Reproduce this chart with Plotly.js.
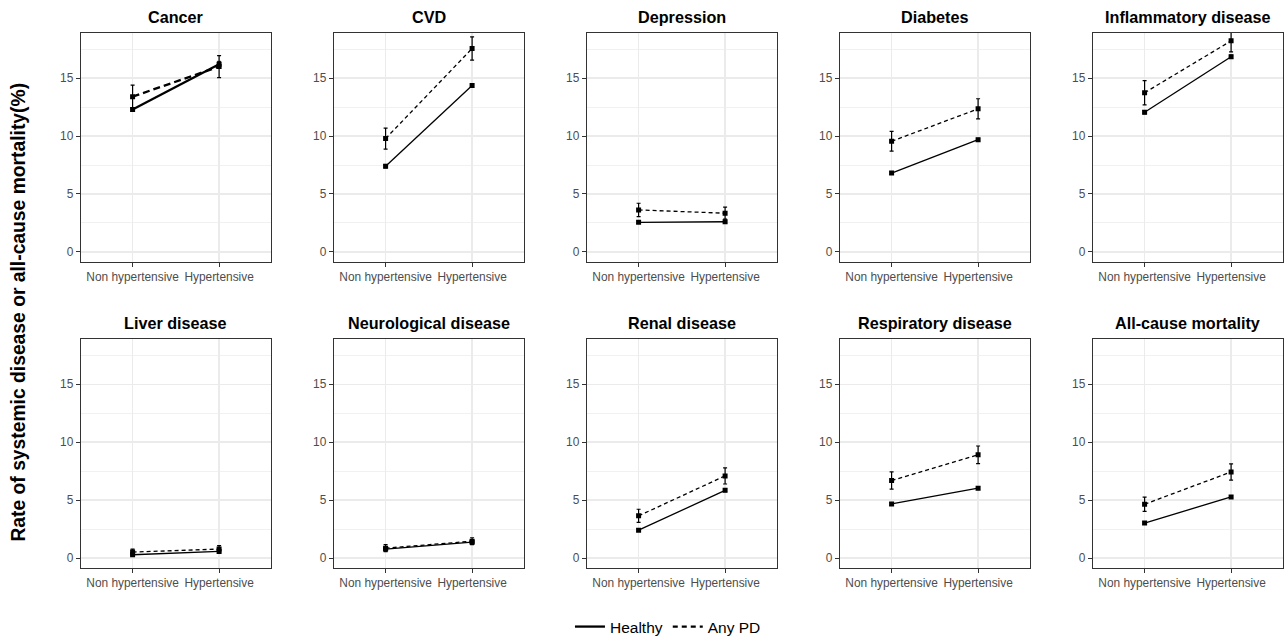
<!DOCTYPE html>
<html>
<head>
<meta charset="utf-8">
<script src="https://cdn.plot.ly/plotly-3.0.1.min.js"></script>
<style>html,body{margin:0;padding:0;background:#fff;}#chart{width:1288px;height:644px;}</style>
</head>
<body>
<div id="chart"></div>
<script>
const categories = ['Non hypertensive', 'Hypertensive'];
const panelTitles = ['Cancer', 'CVD', 'Depression', 'Diabetes', 'Inflammatory disease',
  'Liver disease', 'Neurological disease', 'Renal disease', 'Respiratory disease', 'All-cause mortality'];
const seriesNames = ['Healthy', 'Any PD'];
const healthyNonHyp = [12.3, 7.4, 2.55, 6.8, 12.06, 0.28, 0.77, 2.4, 4.67, 3.02];
const healthyHyp    = [16.2, 14.37, 2.6, 9.69, 16.85, 0.57, 1.37, 5.84, 6.03, 5.27];
const healthyErrNonHyp = [0.15, 0.15, 0.1, 0.12, 0.15, 0.05, 0.08, 0.1, 0.12, 0.1];
const healthyErrHyp    = [0.25, 0.15, 0.1, 0.12, 0.15, 0.07, 0.1, 0.12, 0.12, 0.1];
const pdNonHyp = [13.4, 9.78, 3.62, 9.55, 13.74, 0.51, 0.85, 3.64, 6.69, 4.64];
const pdHyp    = [16.0, 17.56, 3.34, 12.35, 18.22, 0.77, 1.45, 7.09, 8.91, 7.43];
const pdErrNonHyp = [1.0, 0.9, 0.58, 0.85, 1.04, 0.25, 0.3, 0.57, 0.74, 0.62];
const pdErrHyp    = [0.95, 1.0, 0.52, 0.87, 0.95, 0.3, 0.3, 0.7, 0.76, 0.7];
const yTickVals = [0, 5, 10, 15];

const W = 1288, H = 644;
const panelLeft0 = 80.7, panelStep = 253.0, panelWidth = 190.3;
const rowTop = [33.3, 342.3], rowBottom = [264.3, 573.3];

const data = [];
const layout = {
  width: W, height: H,
  margin: {l: 0, r: 0, t: 0, b: 0},
  paper_bgcolor: '#fff', plot_bgcolor: '#fff',
  font: {family: 'Liberation Sans, Arial, sans-serif', color: '#000'},
  showlegend: true,
  legend: {orientation: 'h', x: 0.5186, xanchor: 'center', y: 1 - 633 / H, yanchor: 'middle',
    font: {size: 15.5, color: '#000'}, bgcolor: 'rgba(0,0,0,0)', itemwidth: 30, tracegroupgap: 0},
  annotations: [],
};

for (let i = 0; i < 10; i++) {
  const row = Math.floor(i / 5), col = i % 5;
  const ax = i === 0 ? '' : String(i + 1);
  const left = panelLeft0 + col * panelStep, right = left + panelWidth;
  const isCancer = i === 0;
  const lw = isCancer ? 2.3 : 1.3;
  const pdDash = isCancer ? '7px,4px' : '4px,3px';
  layout['xaxis' + ax] = {
    domain: [left / W, right / W], anchor: 'y' + ax,
    type: 'category', categoryorder: 'array', categoryarray: categories,
    range: [-0.6, 1.6],
    showgrid: true, gridcolor: '#EBEBEB', gridwidth: 1.4,
    showline: true, mirror: true, linecolor: '#333333', linewidth: 1,
    ticks: 'outside', ticklen: 4, tickcolor: '#333333', tickwidth: 1,
    tickfont: {size: 11.9, color: '#4D4D4D'}, zeroline: false, fixedrange: true,
  };
  layout['yaxis' + ax] = {
    domain: [1 - rowBottom[row] / H, 1 - rowTop[row] / H], anchor: 'x' + ax,
    range: [-0.86, 18.9], tickmode: 'array', tickvals: yTickVals,
    showgrid: true, gridcolor: '#EBEBEB', gridwidth: 1.4,
    minor: {tickmode: 'linear', tick0: 0, dtick: 2.5, showgrid: true, gridcolor: '#EEEEEE', gridwidth: 0.8, ticks: ''},
    showline: true, mirror: true, linecolor: '#333333', linewidth: 1,
    ticks: 'outside', ticklen: 4, tickcolor: '#333333', tickwidth: 1,
    tickfont: {size: 11.9, color: '#4D4D4D'}, zeroline: false, fixedrange: true,
  };
  layout.annotations.push({
    text: '<b>' + panelTitles[i] + '</b>', xref: 'paper', yref: 'paper',
    x: (left + right) / 2 / W, y: 1 - (rowTop[row] - 16.5) / H,
    xanchor: 'center', yanchor: 'middle', showarrow: false,
    font: {size: 16.2, color: '#000'},
  });
  data.push({
    type: 'scatter', mode: 'lines+markers', name: seriesNames[0], legendgroup: 'h',
    showlegend: false, xaxis: 'x' + ax, yaxis: 'y' + ax,
    x: categories, y: [healthyNonHyp[i], healthyHyp[i]],
    error_y: {type: 'data', array: [healthyErrNonHyp[i], healthyErrHyp[i]], color: '#000', thickness: 1, width: 2},
    line: {color: '#000', width: lw, dash: 'solid'},
    marker: {symbol: 'square', size: 5, color: '#000'},
    cliponaxis: true,
  });
  data.push({
    type: 'scatter', mode: 'lines+markers', name: seriesNames[1], legendgroup: 'p',
    showlegend: false, xaxis: 'x' + ax, yaxis: 'y' + ax,
    x: categories, y: [pdNonHyp[i], pdHyp[i]],
    error_y: {type: 'data', array: [pdErrNonHyp[i], pdErrHyp[i]], color: '#000', thickness: 1.2, width: 2},
    line: {color: '#000', width: lw, dash: pdDash},
    marker: {symbol: 'square', size: 5, color: '#000'},
    cliponaxis: true,
  });
}

// legend-only entries (lines without markers, as in the reference key)
data.push({type: 'scatter', mode: 'lines', name: seriesNames[0], legendgroup: 'h', showlegend: true,
  x: [null], y: [null], xaxis: 'x', yaxis: 'y', line: {color: '#000', width: 2.3, dash: 'solid'}});
data.push({type: 'scatter', mode: 'lines', name: seriesNames[1], legendgroup: 'p', showlegend: true,
  x: [null], y: [null], xaxis: 'x', yaxis: 'y', line: {color: '#000', width: 2.3, dash: '5px,4px'}});

layout.annotations.push({
  text: '<b>Rate of systemic disease or all-cause mortality(%)</b>', xref: 'paper', yref: 'paper',
  x: 18.5 / W, y: 1 - 315 / H, xanchor: 'center', yanchor: 'middle', textangle: -90,
  showarrow: false, font: {size: 19.3, color: '#000'},
});

Plotly.newPlot('chart', data, layout, {staticPlot: true, displayModeBar: false});
</script>
</body>
</html>
